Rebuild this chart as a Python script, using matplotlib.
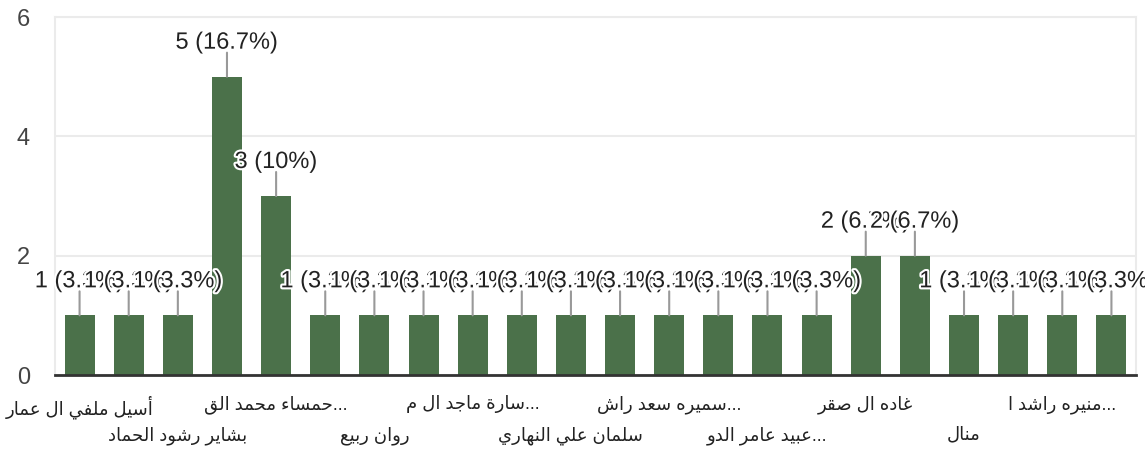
import matplotlib
matplotlib.use("Agg")
import matplotlib.pyplot as plt
import matplotlib.transforms as mtransforms
import matplotlib.patheffects as pe

plt.rcParams['font.family'] = ['Liberation Sans', 'DejaVu Sans']

# names shown under every other bar (the rest are hidden in the original)
names = ["أسيل ملفي ال عمار", "", "بشاير رشود الحماد", "", "حمساء محمد الق...", "",
         "روان ربيع", "", "سارة ماجد ال م...", "", "سلمان علي النهاري", "",
         "سميره سعد راش...", "", "عبيد عامر الدو...", "", "غاده ال صقر", "",
         "منال", "", "منيره راشد ا...", ""]
counts = [1, 1, 1, 5, 3, 1, 1, 1, 1, 1, 1, 1, 1, 1, 1, 1, 2, 2, 1, 1, 1, 1]
yticks = [0, 2, 4, 6]

# Arabic presentation forms (isolated code, number of forms)
FORMS = {
    'ء': (0xFE80, 1), 'آ': (0xFE81, 2), 'أ': (0xFE83, 2), 'ؤ': (0xFE85, 2),
    'إ': (0xFE87, 2), 'ئ': (0xFE89, 4), 'ا': (0xFE8D, 2), 'ب': (0xFE8F, 4),
    'ة': (0xFE93, 2), 'ت': (0xFE95, 4), 'ث': (0xFE99, 4), 'ج': (0xFE9D, 4),
    'ح': (0xFEA1, 4), 'خ': (0xFEA5, 4), 'د': (0xFEA9, 2), 'ذ': (0xFEAB, 2),
    'ر': (0xFEAD, 2), 'ز': (0xFEAF, 2), 'س': (0xFEB1, 4), 'ش': (0xFEB5, 4),
    'ص': (0xFEB9, 4), 'ض': (0xFEBD, 4), 'ط': (0xFEC1, 4), 'ظ': (0xFEC5, 4),
    'ع': (0xFEC9, 4), 'غ': (0xFECD, 4), 'ف': (0xFED1, 4), 'ق': (0xFED5, 4),
    'ك': (0xFED9, 4), 'ل': (0xFEDD, 4), 'م': (0xFEE1, 4), 'ن': (0xFEE5, 4),
    'ه': (0xFEE9, 4), 'و': (0xFEED, 2), 'ى': (0xFEEF, 2), 'ي': (0xFEF1, 4),
}


def shape(s):
    # join letters and put them in visual (right-to-left) order;
    # a trailing ellipsis stays on the right like in an LTR page
    tail = ''
    if s.endswith('...'):
        s, tail = s[:-3], '...'
    out = []
    for i, ch in enumerate(s):
        if ch not in FORMS:
            out.append(ch)
            continue
        base, n = FORMS[ch]
        prev = s[i - 1] if i > 0 else ''
        nxt = s[i + 1] if i + 1 < len(s) else ''
        jp = n > 1 and prev in FORMS and FORMS[prev][1] == 4
        jn = n == 4 and nxt in FORMS and FORMS[nxt][1] > 1
        off = 3 if (jp and jn) else 1 if jp else 2 if jn else 0
        out.append(chr(base + off))
    return ''.join(reversed(out)) + tail


total = sum(counts)
x = list(range(len(counts)))

fig = plt.figure(figsize=(11.45, 4.49), dpi=100)
ax = fig.add_axes([55 / 1145, 1 - 375 / 449, (1136 - 55) / 1145, (375 - 17) / 449])

ax.bar(x, counts, width=0.61, color='#4b714a', zorder=3)
ax.set_xlim(-0.5, len(counts) - 0.5)
ax.set_ylim(0, 6)
ax.set_yticks(yticks)
ax.tick_params(axis='y', length=0, pad=18, labelsize=17, labelcolor='#444444')
ax.set_xticks([])
ax.grid(axis='y', color='#ebebeb', lw=1.5, zorder=0)
for s in ['left', 'right', 'top']:
    ax.spines[s].set_color('#ebebeb')
    ax.spines[s].set_linewidth(1.5)
ax.spines['bottom'].set_color('#333333')
ax.spines['bottom'].set_linewidth(2)
ax.spines['bottom'].set_zorder(4)

halo = [pe.withStroke(linewidth=3, foreground='white')]
for xi, v in zip(x, counts):
    ax.annotate('', xy=(xi, v), xytext=(0, 24), textcoords='offset pixels',
                arrowprops=dict(arrowstyle='-', color='#999999', lw=1.5,
                                shrinkA=0, shrinkB=0), zorder=4)
for xi, v in zip(x, counts):
    pct = f"{v / total * 100:.1f}".rstrip('0').rstrip('.')
    ax.annotate(f"{v} ({pct}%)", xy=(xi, v), xytext=(0, 28),
                textcoords='offset pixels', ha='center', va='baseline',
                fontsize=17, color='#222222', path_effects=halo, zorder=5)

trans = ax.get_xaxis_transform()
k = 0
for xi, name in zip(x, names):
    if not name:
        continue
    dy = -20 if k % 2 == 0 else -51
    t = mtransforms.offset_copy(trans, fig=fig, x=0, y=dy, units='dots')
    ax.text(xi, 0, shape(name), transform=t, ha='center', va='top',
            fontsize=13, color='#222222')
    k += 1

fig.savefig('out.png', dpi=100)
